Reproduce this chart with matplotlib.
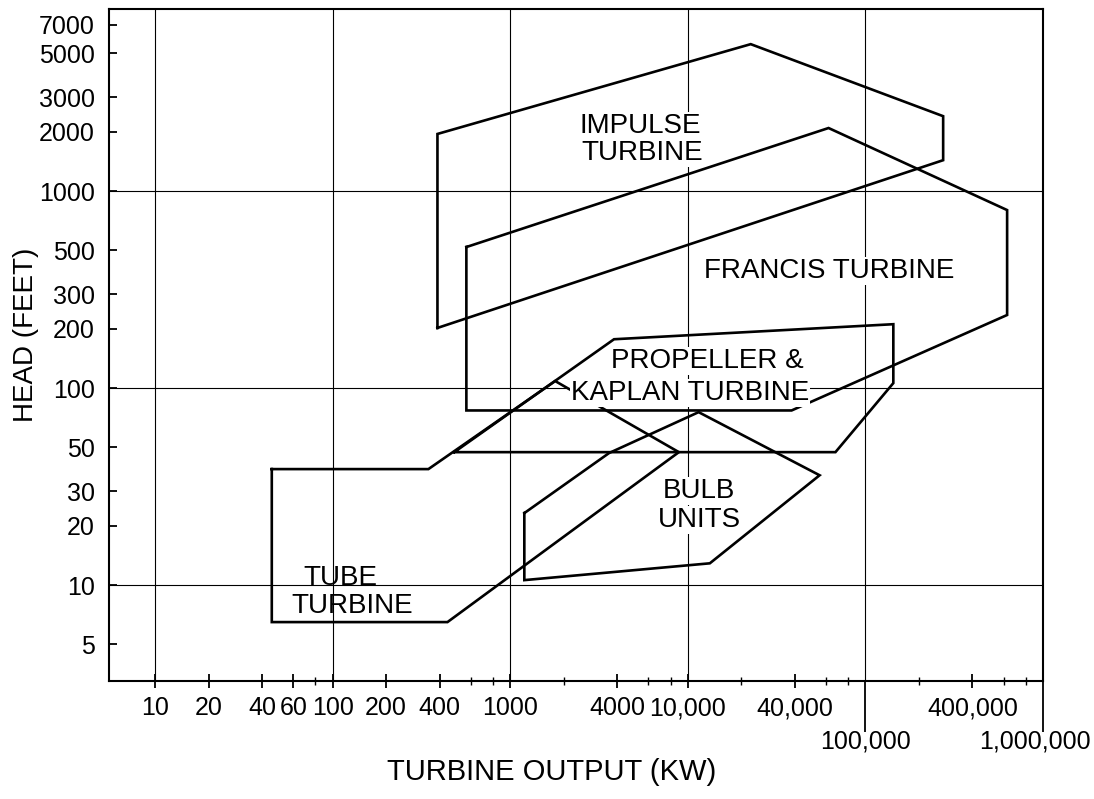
import matplotlib.pyplot as plt
import matplotlib.lines as mlines
from matplotlib.transforms import offset_copy

plt.rcParams['font.family'] = ['Liberation Sans', 'DejaVu Sans']

##### regions (kW, feet) #####
impulse_kw = [389, 389, 22600, 274000, 274000]
impulse_ft = [202, 1950, 5570, 2400, 1435]

francis_kw = [566, 62000, 628000, 628000, 38400, 566]
francis_ft = [520, 2090, 801, 235, 77, 77]

propeller_kw = [484, 3840, 143600, 143600, 67800]
propeller_ft = [47.3, 177, 211, 106, 47.3]

tube_kw = [45.4, 346, 1790, 8900, 443, 45.4]
tube_ft = [38.8, 38.8, 108.6, 47.3, 6.49, 6.49]

bulb_kw = [1200, 3600, 11500, 55200, 13300, 1200]
bulb_ft = [23.2, 46.8, 75.5, 36.1, 12.9, 10.6]

##### labels inside the chart (text, kW, feet at baseline) #####
label_text = ['IMPULSE', 'TURBINE', 'FRANCIS TURBINE', 'PROPELLER &',
              'KAPLAN TURBINE', 'BULB', 'UNITS', 'TUBE', 'TURBINE']
label_kw = [5370, 5500, 62800, 12800, 10260, 11500, 11600, 111, 128]
label_ft = [1970, 1435, 362, 126, 86.9, 27.7, 19.7, 10.0, 7.2]
label_box = [True, True, True, True, True, True, True, False, False]

##### axes ticks #####
x_ticks = [10, 20, 40, 60, 100, 200, 400, 1000, 4000, 10000, 40000,
           100000, 400000, 1000000]
x_ticklabels = ['10', '20', '40', '60', '100', '200', '400', '1000', '4000',
                '10,000', '40,000', '', '400,000', '']
# these two sit on a second row under long ticks
x_low = [100000, 1000000]
x_lowlabels = ['100,000', '1,000,000']
x_minor = [80, 600, 800, 2000, 6000, 8000, 20000, 60000, 80000,
           200000, 600000, 800000]
y_ticks = [5, 10, 20, 30, 50, 100, 200, 300, 500, 1000, 2000, 3000, 5000, 7000]
x_grid = [10, 100, 1000, 10000, 100000]
y_grid = [10, 100, 1000]

fig = plt.figure(figsize=(10.94, 7.99), dpi=100)
ax = fig.add_axes([109/1094, 1-681/799, (1043-109)/1094, (681-9)/799])
ax.set_xscale('log')
ax.set_yscale('log')
ax.set_xlim(5.5, 1e6)
ax.set_ylim(3.26, 8400)

for g in x_grid:
    ax.axvline(g, color='black', lw=0.8, zorder=1)
for g in y_grid:
    ax.axhline(g, color='black', lw=0.8, zorder=1)

# outlines of each turbine region
for kw, ft in [(impulse_kw, impulse_ft), (francis_kw, francis_ft),
               (propeller_kw, propeller_ft), (tube_kw, tube_ft),
               (bulb_kw, bulb_ft)]:
    ax.plot(kw + kw[:1], ft + ft[:1], color='black', lw=1.9, zorder=2,
            solid_joinstyle='miter')

for s, x, y, box in zip(label_text, label_kw, label_ft, label_box):
    bb = dict(facecolor='white', edgecolor='none', pad=0.5) if box else None
    ax.text(x, y, s, ha='center', va='baseline', fontsize=20, bbox=bb, zorder=3)

ax.set_xticks(x_ticks)
ax.set_xticklabels(x_ticklabels)
ax.set_xticks(x_minor, minor=True)
ax.xaxis.set_minor_formatter(plt.NullFormatter())
ax.set_yticks(y_ticks)
ax.set_yticklabels([str(v) for v in y_ticks])
ax.yaxis.set_minor_locator(plt.NullLocator())

ax.tick_params(axis='x', which='major', direction='inout', length=10, width=1.3,
               labelsize=18, pad=6)
ax.tick_params(axis='x', which='minor', direction='inout', length=6, width=1.0)
ax.tick_params(axis='y', which='major', direction='in', length=6, width=1.3,
               labelsize=18, pad=10)
ax.tick_params(top=False, right=False)

# long ticks under 100,000 and 1,000,000
for t, v in zip(ax.xaxis.get_major_ticks(), x_ticks):
    if v in x_low:
        t.tick1line.set_marker(mlines.TICKDOWN)
        t.tick1line.set_markersize(37)

trans = ax.get_xaxis_transform()
for v, s in zip(x_low, x_lowlabels):
    tr = trans if v < 1e6 else offset_copy(trans, fig=fig, x=-8, units='dots')
    ax.text(v, -0.072, s, transform=tr, ha='center', va='top', fontsize=18,
            clip_on=False)

for sp in ax.spines.values():
    sp.set_linewidth(1.5)

ax.set_xlabel('TURBINE OUTPUT (KW)', fontsize=21)
ax.xaxis.set_label_coords(0.474, -0.115)
ax.set_ylabel('HEAD (FEET)', fontsize=20)
ax.yaxis.set_label_coords(-0.075, 0.515)

fig.savefig('out.png', dpi=100)
